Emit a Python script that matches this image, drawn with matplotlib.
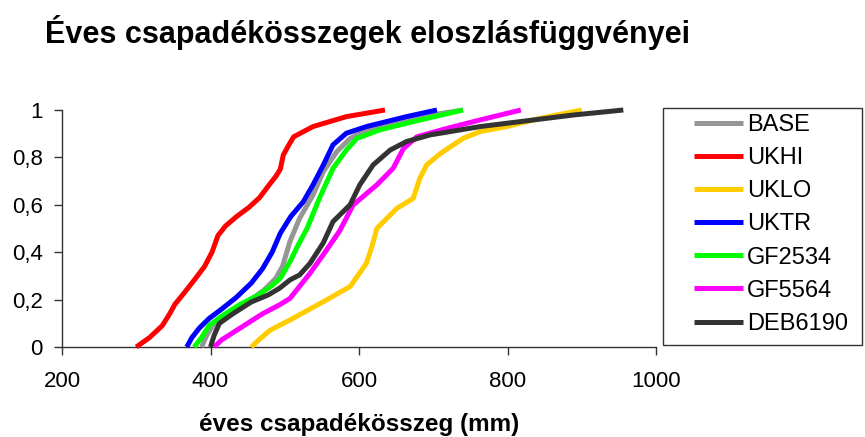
import matplotlib
matplotlib.use("Agg")
import matplotlib.pyplot as plt
from matplotlib.patches import Rectangle

plt.rcParams['font.family'] = ['Liberation Sans', 'DejaVu Sans']

series_names = ["BASE", "UKHI", "UKLO", "UKTR", "GF2534", "GF5564", "DEB6190"]
colors = ["#969696", "#FF0000", "#FFCC00", "#0000FF", "#00FF00", "#FF00FF", "#333333"]

base_x = [388, 395, 405, 425, 450, 472, 488, 497, 507, 520, 538, 552, 570, 588, 610, 660, 740]
base_y = [0, 0.05, 0.1, 0.14, 0.19, 0.24, 0.29, 0.34, 0.445, 0.543, 0.641, 0.74, 0.824, 0.88, 0.916, 0.96, 1.0]

ukhi_x = [300, 318, 335, 345, 352, 365, 380, 392, 402, 410, 420, 435, 452, 466, 478, 488, 494, 498, 505, 512, 538, 583, 635]
ukhi_y = [0, 0.04, 0.09, 0.14, 0.18, 0.23, 0.29, 0.34, 0.40, 0.47, 0.51, 0.55, 0.59, 0.63, 0.68, 0.72, 0.75, 0.81, 0.85, 0.887, 0.93, 0.972, 1.0]

uklo_x = [455, 465, 480, 494, 507, 552, 588, 610, 618, 624, 651, 673, 682, 691, 709, 740, 763, 799, 844, 900]
uklo_y = [0, 0.03, 0.07, 0.093, 0.114, 0.191, 0.255, 0.353, 0.43, 0.50, 0.585, 0.627, 0.712, 0.768, 0.815, 0.88, 0.909, 0.93, 0.965, 1.0]

uktr_x = [368, 375, 385, 398, 415, 435, 455, 470, 483, 494, 508, 525, 538, 552, 565, 583, 610, 664, 705]
uktr_y = [0, 0.04, 0.08, 0.12, 0.16, 0.21, 0.27, 0.33, 0.40, 0.48, 0.55, 0.613, 0.684, 0.768, 0.853, 0.902, 0.93, 0.972, 1.0]

gf2534_x = [378, 388, 398, 415, 440, 465, 483, 494, 507, 518, 530, 547, 565, 583, 597, 628, 673, 740]
gf2534_y = [0, 0.04, 0.09, 0.13, 0.18, 0.22, 0.26, 0.29, 0.36, 0.43, 0.50, 0.63, 0.754, 0.831, 0.88, 0.916, 0.951, 1.0]

gf5564_x = [405, 415, 430, 450, 470, 493, 507, 534, 552, 574, 592, 624, 646, 660, 678, 718, 763, 818]
gf5564_y = [0, 0.03, 0.06, 0.1, 0.14, 0.178, 0.205, 0.311, 0.39, 0.49, 0.599, 0.684, 0.754, 0.838, 0.887, 0.922, 0.958, 1.0]

deb6190_x = [400, 405, 412, 430, 455, 478, 493, 507, 520, 534, 552, 565, 588, 601, 619, 642, 664, 696, 763, 799, 889, 956]
deb6190_y = [0, 0.05, 0.1, 0.14, 0.19, 0.22, 0.248, 0.283, 0.304, 0.353, 0.44, 0.529, 0.60, 0.684, 0.768, 0.831, 0.867, 0.895, 0.93, 0.944, 0.979, 1.0]

xs = [base_x, ukhi_x, uklo_x, uktr_x, gf2534_x, gf5564_x, deb6190_x]
ys = [base_y, ukhi_y, uklo_y, uktr_y, gf2534_y, gf5564_y, deb6190_y]

x_ticks = [200, 400, 600, 800, 1000]
y_ticks = [0, 0.2, 0.4, 0.6, 0.8, 1.0]
y_tick_labels = ["0", "0,2", "0,4", "0,6", "0,8", "1"]

W, H = 865, 437
fig = plt.figure(figsize=(W / 100, H / 100), dpi=100)
ax = fig.add_axes([62 / W, (H - 347) / H, 594 / W, 237 / H])

handles = []
for i, (name, c) in enumerate(zip(series_names, colors)):
    ln, = ax.plot(xs[i], ys[i], color=c, lw=3.6, solid_joinstyle='round',
                  solid_capstyle='butt', clip_on=False, zorder=3 + i, label=name)
    handles.append(ln)

ax.set_xlim(200, 1000)
ax.set_ylim(0, 1)
ax.set_xticks(x_ticks)
ax.set_xticklabels([str(v) for v in x_ticks])
ax.set_yticks(y_ticks)
ax.set_yticklabels(y_tick_labels)
for s in ["top", "right"]:
    ax.spines[s].set_visible(False)
for s in ["left", "bottom"]:
    ax.spines[s].set_color("#333333")
    ax.spines[s].set_linewidth(1.0)
ax.tick_params(axis='x', direction='out', length=5.5, width=1, color="#333333",
               labelsize=16, pad=12)
ax.tick_params(axis='y', direction='out', length=6, width=1, color="#333333",
               labelsize=16, pad=8)

ax.set_xlabel("éves csapadékösszeg (mm)", fontsize=17.5, fontweight='bold')
ax.xaxis.set_label_coords(0.5, (347 - 425) / 237)
ax.xaxis.label.set_va('center')

fig.text(45 / W, 1 - 33 / H, "Éves csapadékösszegek eloszlásfüggvényei",
         fontsize=22, fontweight='bold', ha='left', va='center')

# legend frame
fig.patches.append(Rectangle((663 / W, (H - 345) / H), (862 - 663) / W, (345 - 108) / H,
                             transform=fig.transFigure, fill=False,
                             ec="#333333", lw=1.0))
leg = fig.legend(handles=handles, loc='center left',
                 bbox_to_anchor=(694 / W, 1 - 224.5 / H),
                 frameon=False, fontsize=17, handlelength=2.08,
                 handletextpad=0.17, labelspacing=0.47, borderpad=0,
                 borderaxespad=0)

fig.savefig("out.png", dpi=100)
